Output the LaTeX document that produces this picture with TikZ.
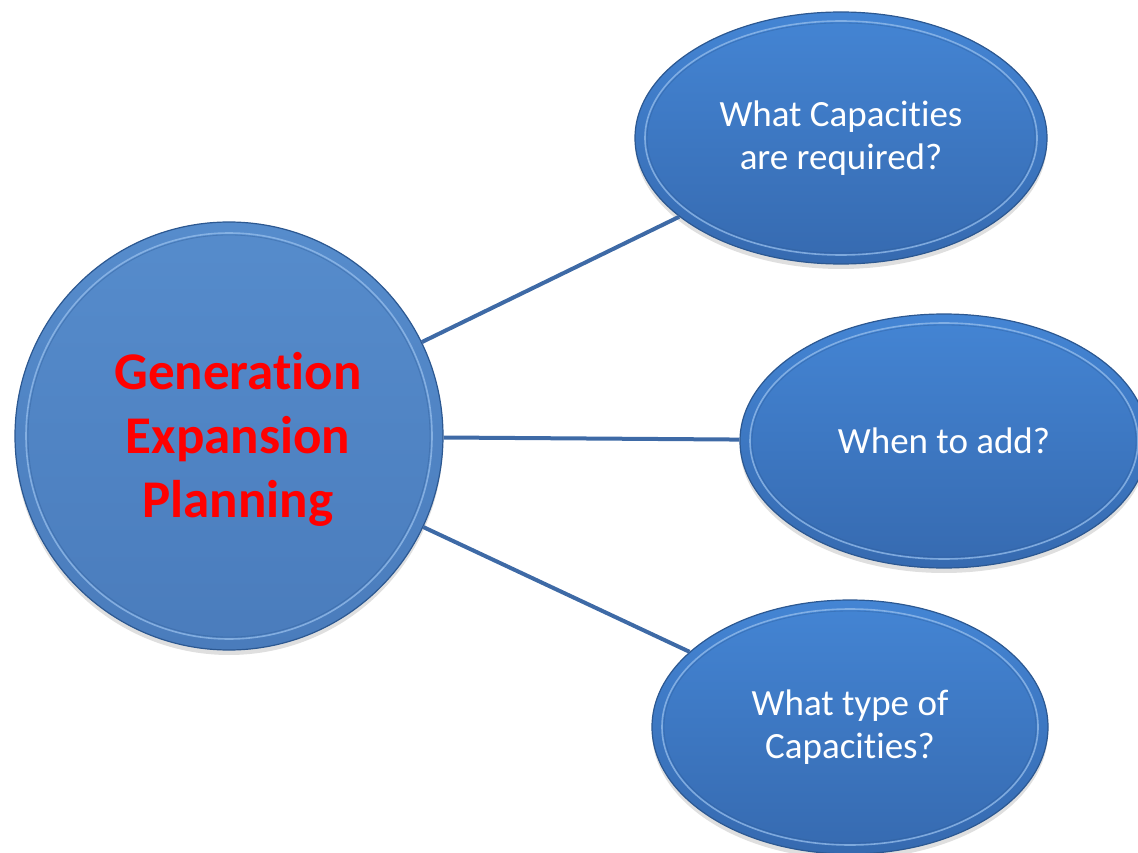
\documentclass[tikz,border=0pt]{standalone}
\usepackage{fontspec}
\setmainfont{Carlito}[Ligatures=NoCommon]
\usetikzlibrary{shapes.geometric,shadows}
\definecolor{bubtop}{RGB}{68,133,212}
\definecolor{bubbot}{RGB}{54,106,176}
\definecolor{bubedge}{RGB}{44,88,145}
\definecolor{bubring}{RGB}{150,190,236}
\definecolor{circtop}{RGB}{86,140,204}
\definecolor{circbot}{RGB}{74,124,188}
\definecolor{linkcol}{RGB}{62,106,166}
\definecolor{redtext}{RGB}{255,0,0}
\tikzset{
  bub/.style 2 args={ellipse, minimum width=#1, minimum height=#2, inner sep=0pt,
    top color=bubtop, bottom color=bubbot, draw=bubedge, line width=1.2pt,
    drop shadow={shadow xshift=0pt, shadow yshift=-5pt, opacity=0.25},
    text=white, align=center, font=\fontsize{37}{43}\selectfont,
    path picture={
      \draw[bubring, line width=1.6pt, opacity=0.75] (path picture bounding box.center) ellipse [x radius=#1/2-10pt, y radius=#2/2-9pt];
      \draw[bubedge, line width=0.8pt, opacity=0.35] (path picture bounding box.center) ellipse [x radius=#1/2-12pt, y radius=#2/2-11pt];
    }},
  hub/.style={circle, minimum size=#1, inner sep=0pt,
    top color=circtop, bottom color=circbot, draw=bubedge, line width=1.2pt,
    drop shadow={shadow xshift=0pt, shadow yshift=-5pt, opacity=0.25},
    path picture={
      \draw[bubring, line width=1.6pt, opacity=0.75] (path picture bounding box.center) circle [radius=#1/2-11pt];
      \draw[bubedge, line width=0.8pt, opacity=0.35] (path picture bounding box.center) circle [radius=#1/2-13pt];
    }},
  hubtext/.style={text=redtext, align=center, inner sep=0pt,
    font=\fontsize{53}{64}\selectfont\bfseries, xshift=9pt, yshift=-3pt},
  link/.style={draw=linkcol, line width=4pt}
}
\begin{document}
\begin{tikzpicture}[x=1pt,y=-1pt]
\useasboundingbox (0,0) rectangle (1138,853);
\node[hub=428pt, label={[hubtext]center:{Generation\\Expansion\\Planning}}] (gep) at (229,436) {};
\node[bub={412pt}{252pt}] (q1) at (841,138) {What Capacities\\are required?};
\node[bub={408pt}{254pt}] (q2) at (944,441) {When to add?};
\node[bub={396pt}{254pt}] (q3) at (850,727) {What type of\\Capacities?};
\draw[link] (gep) -- (q1);
\draw[link] (gep) -- (q2);
\draw[link] (gep) -- (q3);
\end{tikzpicture}
\end{document}
